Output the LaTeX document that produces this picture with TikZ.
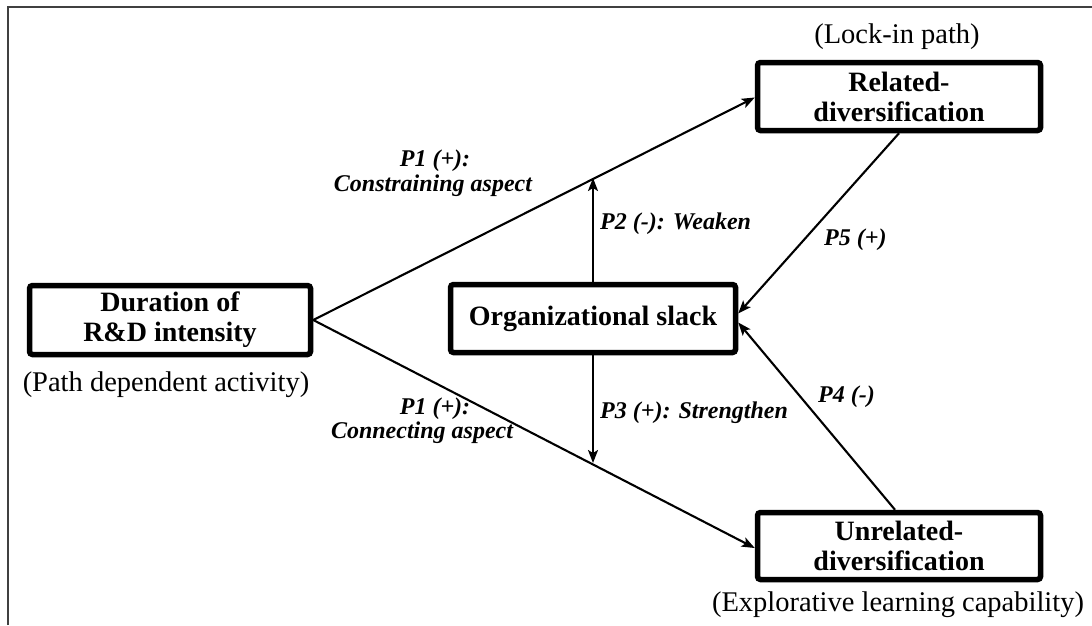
\documentclass[tikz,border=0pt]{standalone}
\usepackage{fontspec}
\setmainfont{Liberation Serif}
\usetikzlibrary{arrows.meta}
\tikzset{
  box/.style={draw, line width=5.5pt, rounded corners=3pt, align=center,
    font=\fontsize{28}{30}\selectfont\bfseries, inner sep=0pt},
  note/.style={font=\fontsize{28.5}{30}\selectfont, inner sep=0pt},
  lab/.style={font=\fontsize{24}{26}\selectfont\bfseries\itshape, inner sep=0pt, align=center},
  arr/.style={line width=2.1pt, -{Stealth[length=13pt,width=10pt,inset=3pt]}},
  frame/.style={line width=1.8pt, black!75}
}
\begin{document}
\begin{tikzpicture}[x=1pt,y=-1pt]
\useasboundingbox (0,0) rectangle (1092,625);
\draw[frame] (8,625) -- (8,7) -- (1092,7);

\node[box, minimum width=281pt, minimum height=69pt] (dur) at (170,320) {Duration of\\R\&D intensity};
\node[note] (durn) at (166,385) {(Path dependent activity)};

\node[box, minimum width=283pt, minimum height=68pt] (rel) at (899,96.5) {Related-\\diversification};
\node[note] (reln) at (897,37) {(Lock-in path)};

\node[box, minimum width=283pt, minimum height=67pt] (unr) at (899,546) {Unrelated-\\diversification};
\node[note] (unrn) at (898,605) {(Explorative learning capability)};

\node[box, minimum width=285pt, minimum height=68pt] (org) at (593,318.5) {Organizational slack};

\coordinate (p2end) at (593,178);
\coordinate (p3end) at (593,463);

\draw[arr] (dur.east) -- ([yshift=-1pt]rel.west);
\draw[arr] (dur.east) -- ([yshift=-2pt]unr.west);
\draw[arr] (org.north) -- (p2end);
\draw[arr] (org.south) -- (p3end);
\draw[arr] (rel.south) -- ([yshift=5pt]org.east);
\draw[arr] ([xshift=-4pt]unr.north) -- ([yshift=-4pt]org.east);

\node[lab] (l1a) at (435,161) {P1 (+):};
\node[lab] (l1b) at (433,186) {Constraining aspect};
\node[lab, anchor=west] (l2) at (600,224) {P2 (-): Weaken};
\node[lab, anchor=west] (l5) at (824,240) {P5 (+)};
\node[lab, anchor=west] (l4) at (818,397) {P4 (-)};
\node[lab, anchor=west] (l3) at (600,413) {P3 (+): Strengthen};
\node[lab] (l1c) at (435,409) {P1 (+):};
\node[lab] (l1d) at (422,433) {Connecting aspect};
\end{tikzpicture}
\end{document}
